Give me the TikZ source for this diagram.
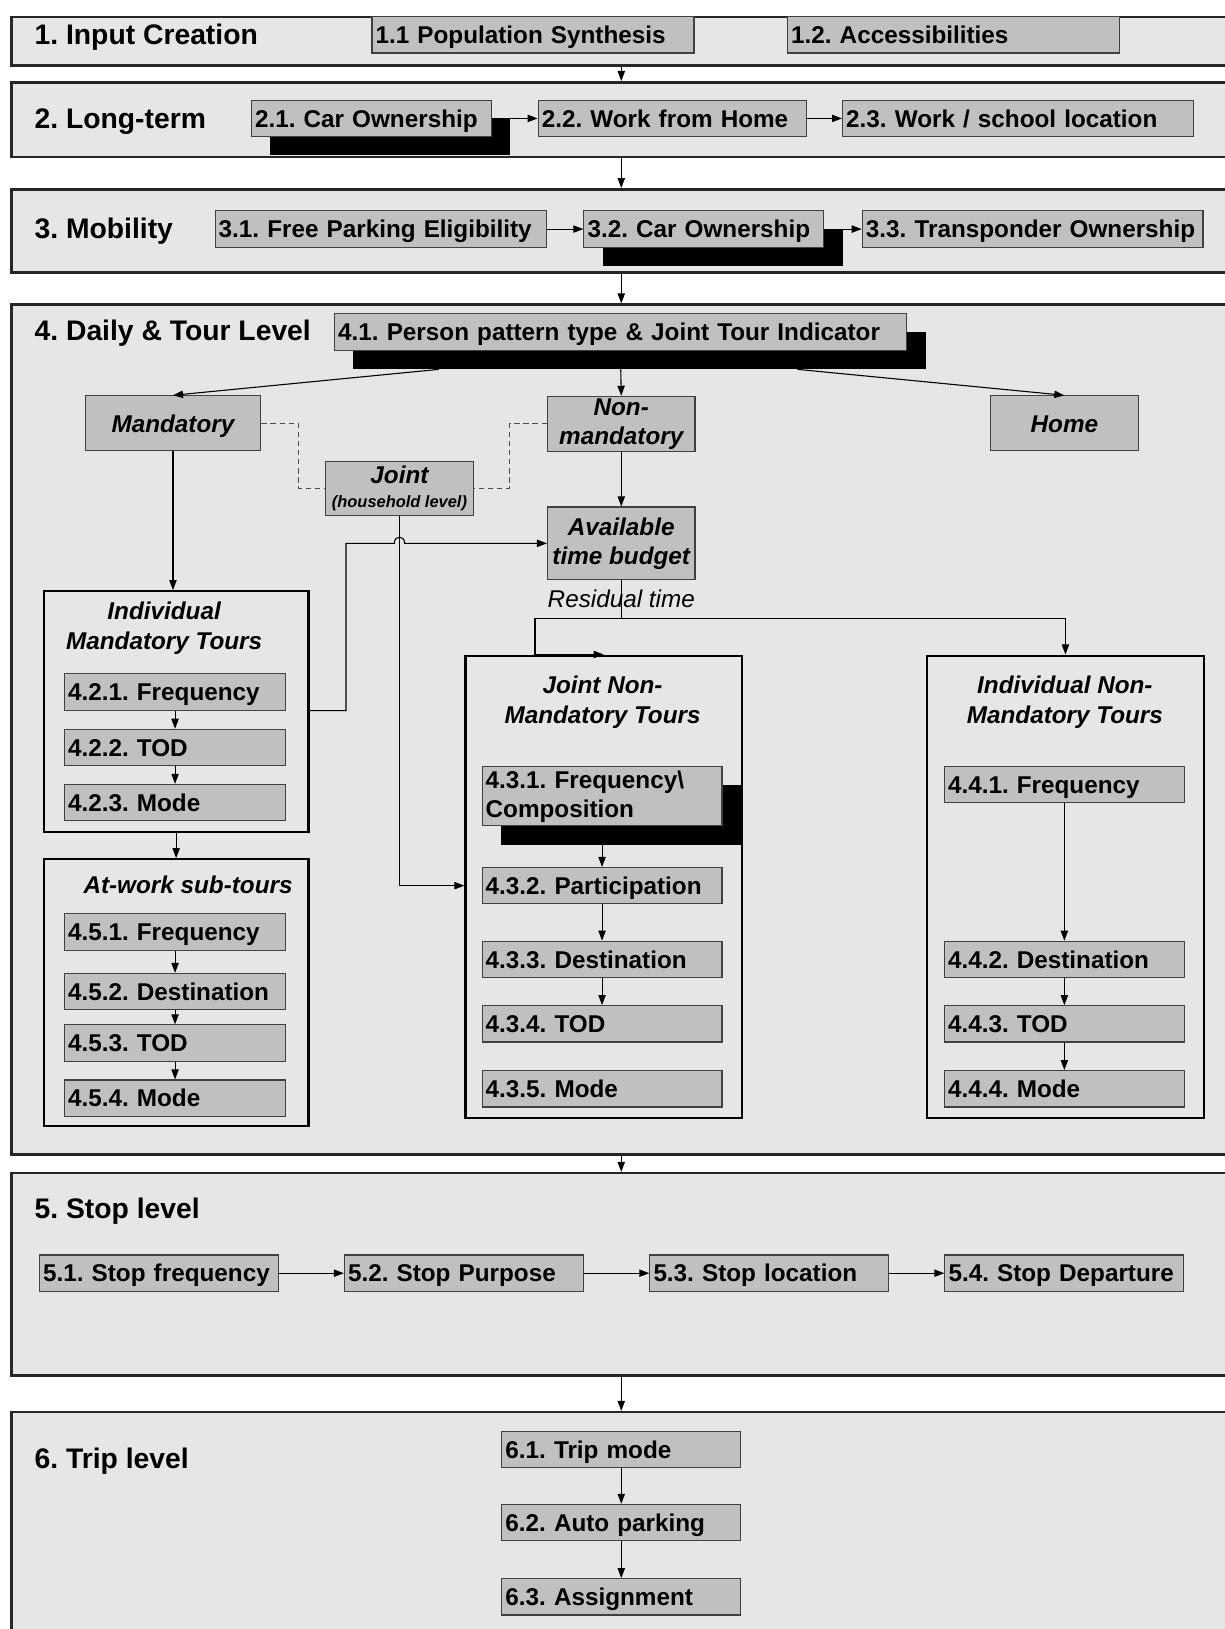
\documentclass[tikz,border=0pt]{standalone}
\usepackage{fontspec}
\setmainfont{Liberation Sans}
\usetikzlibrary{arrows.meta, calc, shadows}
\frenchspacing

\definecolor{bandgray}{HTML}{E6E6E6}
\definecolor{boxgray}{HTML}{C0C0C0}
\definecolor{edgegray}{HTML}{404040}

\begin{document}
\begin{tikzpicture}[x=0.02cm, y=-0.02cm,
    levelband/.style={draw=black!85, line width=1.4pt, fill=bandgray, anchor=north west, minimum width=24.6cm, inner sep=0pt},
    bandtitle/.style={anchor=west, inner sep=0pt, text height=13.95pt, text depth=2.85pt, font=\bfseries\fontsize{15.5}{18}\selectfont},
    tourframe/.style={draw=black, line width=1.2pt, fill=bandgray, anchor=north west, inner sep=0pt},
    oneline/.style={text height=12pt, text depth=2.45pt},
    box/.style={draw=edgegray, line width=0.6pt, fill=boxgray, minimum height=0.7cm, inner xsep=0.07cm, inner ysep=0pt, align=left, oneline, font=\bfseries\fontsize{13.3}{16}\selectfont},
    ibox/.style={draw=edgegray, line width=0.6pt, fill=boxgray, inner sep=0pt, align=center, font=\bfseries\itshape\fontsize{13.3}{16}\selectfont},
    shadowed/.style={general shadow={fill=black, shadow xshift=0.36cm, shadow yshift=-0.36cm}},
    ftitle/.style={align=center, inner sep=0pt, font=\bfseries\itshape\fontsize{13.3}{16.4}\selectfont},
    arr/.style={-{Triangle[length=5.5pt, width=4pt]}, line width=0.6pt},
    dline/.style={densely dashed, line width=0.6pt, draw=black!70}
]
    \useasboundingbox (0,0) rectangle (1179,1568);
    \clip (0,0) rectangle (1179,1568);

    % 背景の帯
    \node[levelband, minimum height=0.94cm] (L1) at (10,15) {};
    \node[levelband, minimum height=1.44cm] (L2) at (10,78) {};
    \node[levelband, minimum height=1.6cm] (L3) at (10,181) {};
    \node[levelband, minimum height=16.36cm] (L4) at (10,292) {};
    \node[levelband, minimum height=3.9cm] (L5) at (10,1128) {};
    \node[levelband, minimum height=5.2cm] (L6) at (10,1358) {};
    \coordinate (axis) at (598,0);

    % 帯の見出し
    \node[bandtitle] (t1) at (33,33) {1. Input Creation};
    \node[bandtitle] (t2) at (33,114) {2. Long-term};
    \node[bandtitle] (t3) at (33,220) {3. Mobility};
    \node[bandtitle] (t4) at (33,318) {4. Daily \& Tour Level};
    \node[bandtitle] (t5) at (33,1163) {5. Stop level};
    \node[bandtitle] (t6) at (33,1404) {6. Trip level};

    % 1 - 3
    \node[box, text width=6.06cm] (b11) at (513,33.5) {1.1 Population Synthesis};
    \node[box, text width=6.26cm] (b12) at (918,33.5) {1.2. Accessibilities};
    \node[box, shadowed, text width=4.48cm] (b21) at (357.5,114) {2.1. Car Ownership};
    \node[box, text width=5.02cm] (b22) at (647,114) {2.2. Work from Home};
    \node[box, text width=6.62cm] (b23) at (980,114) {2.3. Work / school location};
    \node[box, text width=6.24cm] (b31) at (366.5,220.5) {3.1. Free Parking Eligibility};
    \node[box, shadowed, text width=4.48cm] (b32) at (677.5,220.5) {3.2. Car Ownership};
    \node[box, text width=6.42cm] (b33) at (994,220.5) {3.3. Transponder Ownership};

    % 4. 日・ツアー
    \node[box, shadowed, text width=10.88cm] (b41) at (597.5,319.5) {4.1. Person pattern type \& Joint Tour Indicator};
    \node[ibox, oneline, minimum width=3.38cm, minimum height=1.06cm] (mand) at (166.5,407.5) {Mandatory};
    \node[ibox, minimum width=2.84cm, minimum height=1.06cm] (nonm) at (598,408) {Non-\\mandatory};
    \node[ibox, oneline, minimum width=2.86cm, minimum height=1.06cm] (home) at (1024.5,407.5) {Home};
    \node[ibox, minimum width=2.86cm, minimum height=1.04cm] (joint) at (384.5,470) {Joint\\[-2.5pt]{\fontsize{9}{11}\selectfont(household level)}};
    \node[ibox, minimum width=2.84cm, minimum height=1.4cm] (avail) at (598,523) {Available\\time budget};

    % 枠
    \node[tourframe, minimum width=5.1cm, minimum height=4.64cm] (imt) at (41,568) {};
    \node[tourframe, minimum width=5.1cm, minimum height=5.14cm] (atw) at (41,826) {};
    \node[tourframe, minimum width=5.32cm, minimum height=8.9cm] (jnm) at (447,630) {};
    \node[tourframe, minimum width=5.34cm, minimum height=8.9cm] (inm) at (891,630) {};
    \node[ftitle] (imtt) at (158,605) {Individual\\Mandatory Tours};
    \node[ftitle, oneline] (atwt) at (181,852) {At-work sub-tours};
    \node[ftitle] (jnmt) at (580,676) {Joint Non-\\Mandatory Tours};
    \node[ftitle] (inmt) at (1025,676) {Individual Non-\\Mandatory Tours};

    \foreach \n/\y/\t in {1/666/Frequency, 2/719.5/TOD, 3/772.5/Mode}
        \node[box, text width=4.12cm] (b42\n) at (168.5,\y) {4.2.\n. \t};
    \foreach \n/\y/\t in {1/897/Frequency, 2/954.5/Destination, 3/1004/TOD, 4/1057/Mode}
        \node[box, text width=4.12cm] (b45\n) at (168.5,\y) {4.5.\n. \t};
    \node[box, shadowed, text width=4.48cm, text height=, text depth=, minimum height=1.14cm] (b431) at (579.5,766.5) {4.3.1. Frequency\textbackslash\\Composition};
    \foreach \n/\y/\t in {2/852.5/Participation, 3/923.5/Destination, 4/985.5/TOD, 5/1048/Mode}
        \node[box, text width=4.48cm] (b43\n) at (579.5,\y) {4.3.\n. \t};
    \foreach \n/\y/\t in {1/755/Frequency, 2/923.5/Destination, 3/985.5/TOD, 4/1048/Mode}
        \node[box, text width=4.48cm] (b44\n) at (1024.5,\y) {4.4.\n. \t};

    % 5 - 6
    \foreach \n/\x/\t in {1/153/Stop frequency, 2/446.5/Stop Purpose, 3/740.5/Stop location, 4/1024.5/Stop Departure}
        \node[box, text width=4.46cm] (b5\n) at (\x,1225.5) {5.\n. \t};
    \foreach \n/\y/\t in {1/1395/Trip mode, 2/1465.5/Auto parking, 3/1537/Assignment}
        \node[box, text width=4.46cm] (b6\n) at (598,\y) {6.\n. \t};

    % 矢印
    \foreach \a/\b in {L1/L2, L2/L3, L3/L4, L4/L5, L5/L6}
        \draw[arr] (\a.south -| axis) -- (\b.north -| axis);
    \foreach \a/\b in {b21/b22, b22/b23, b31/b32, b32/b33, b51/b52, b52/b53, b53/b54, b61/b62, b62/b63,
                       b421/b422, b422/b423, b451/b452, b452/b453, b453/b454,
                       b432/b433, b433/b434, b441/b442, b442/b443, b443/b444}
        \draw[arr] (\a) -- (\b);
    \draw[arr] ($(b41.south)+(-175,18)$) -- (mand.north);
    \draw[arr] ($(b41.south)+(0,18)$) -- (nonm.north);
    \draw[arr] ($(b41.south)+(170,18)$) -- (home.north);
    \draw[dline] (mand.east) -- ++(36,0) |- (joint.west);
    \draw[dline] (nonm.west |- mand.east) -- ++(-36,0) |- (joint.east);
    \draw[arr] (nonm) -- (avail);
    \draw[arr] (mand.south) -- (mand.south |- imt.north);
    \draw[arr] (imt.south) -- (atw.north);
    \draw[arr] ([yshift=-0.36cm]b431.south) -- (b432.north);

    % 残り時間
    \coordinate (split) at ($(avail.south)+(0,37)$);
    \draw[arr] (avail.south) -- (split) -| ($(jnm.north west)+(68,0)$) -- (jnm.north);
    \draw[arr] (split) -| (inm.north);
    \node[font=\itshape\fontsize{13.3}{16}\selectfont, inner sep=0pt, oneline] (resid) at (598,576) {Residual time};

    % ジャンプ線
    \coordinate (hop) at (joint.south |- avail.west);
    \draw[arr] (imt.east |- b421.south) -- ++(35,0) |- ($(hop)+(-5,0)$)
        .. controls +(0,-8) and +(0,-8) .. ($(hop)+(5,0)$) -- (avail.west);
    \draw[arr] (joint.south) |- (jnm.west |- b432);
\end{tikzpicture}
\end{document}
